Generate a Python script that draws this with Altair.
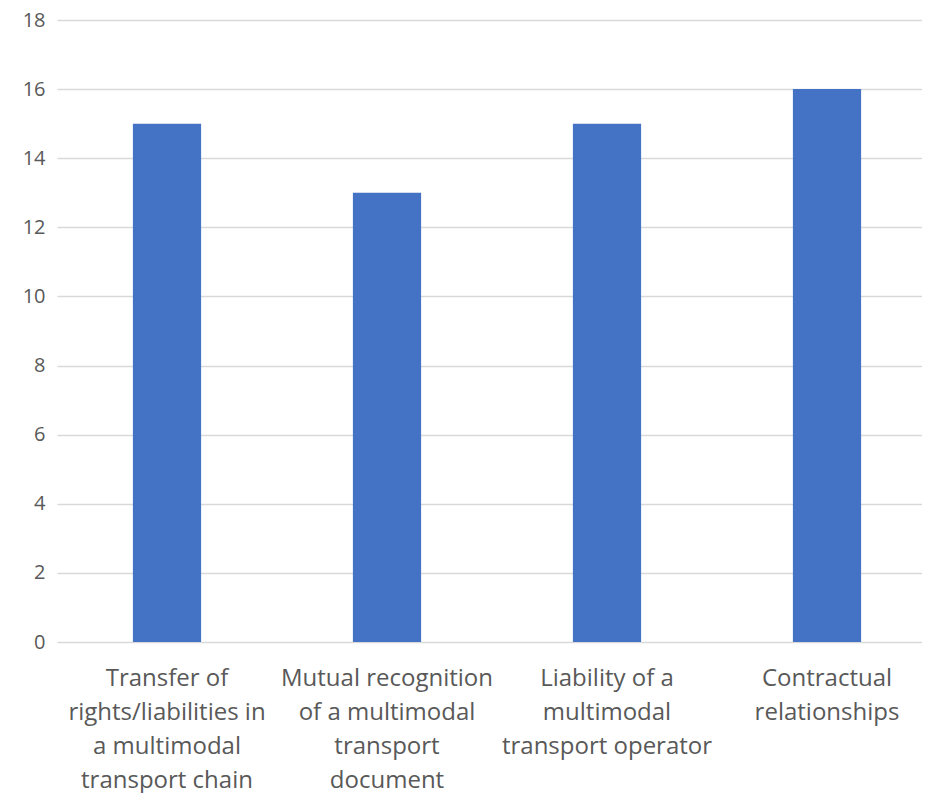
import altair as alt
import pandas as pd

categories = [
    "Transfer of|rights/liabilities in|a multimodal|transport chain",
    "Mutual recognition|of a multimodal|transport|document",
    "Liability of a|multimodal|transport operator",
    "Contractual|relationships",
]
values = [15, 13, 15, 16]

df = pd.DataFrame({"category": categories, "value": values})

chart = alt.Chart(df).mark_bar(color="#4472C4").encode(
    x=alt.X(
        "category:N",
        sort=categories,
        title=None,
        scale=alt.Scale(paddingInner=0.69, paddingOuter=0.345, range=[0, 880]),
        axis=alt.Axis(
            labelAngle=0,
            labelExpr="split(datum.label, '|')",
            labelFont="Open Sans",
            labelFontSize=24,
            labelColor="#595959",
            labelLineHeight=34,
            labelPadding=24,
            labelLimit=0,
            ticks=False,
            domain=False,
            grid=False,
        ),
    ),
    y=alt.Y(
        "value:Q",
        title=None,
        scale=alt.Scale(domain=[0, 18], nice=False),
        axis=alt.Axis(
            values=[0, 2, 4, 6, 8, 10, 12, 14, 16, 18],
            labelFont="Open Sans",
            labelFontSize=20,
            labelColor="#595959",
            labelPadding=12,
            ticks=False,
            domain=False,
            grid=True,
            gridColor="#D9D9D9",
            gridWidth=1.5,
        ),
    ),
).properties(
    width=865,
    height=622,
    autosize=alt.AutoSizeParams(type="none"),
    padding={"left": 49, "top": 12, "right": 0, "bottom": 160},
).configure_view(stroke=None)

chart.save("out.html", embed_options={"renderer": "svg", "actions": False})
